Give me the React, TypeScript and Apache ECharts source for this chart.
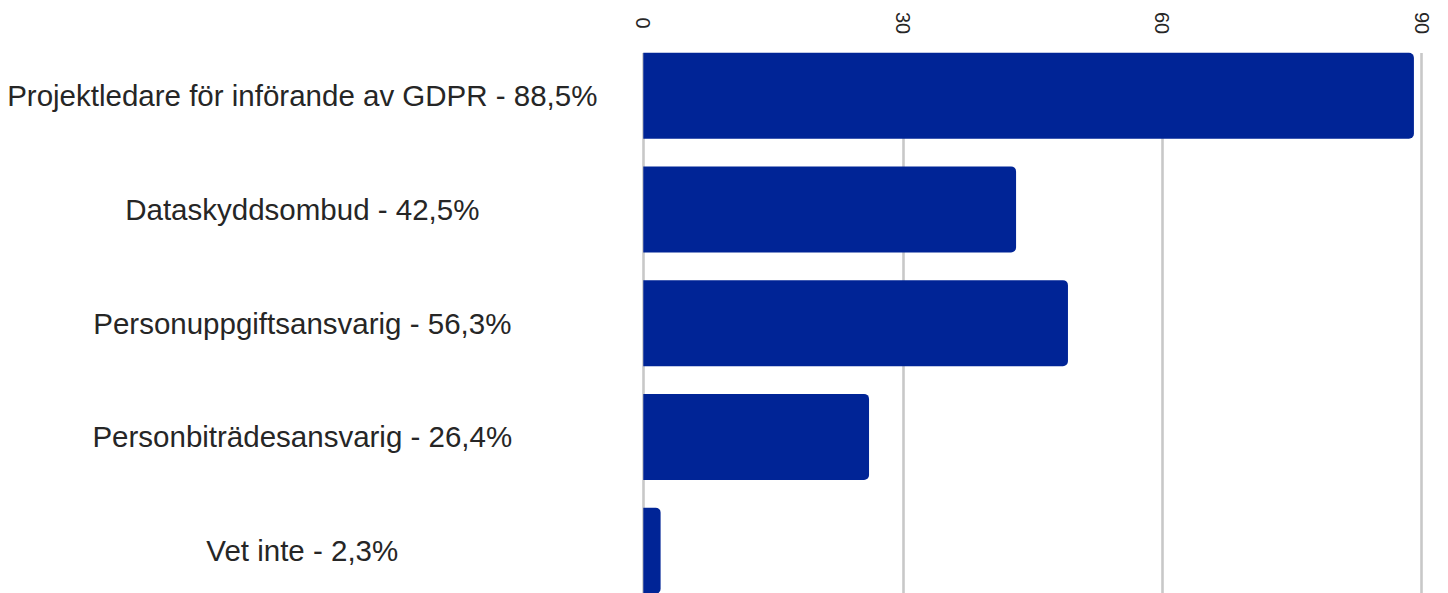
import React, { useEffect, useRef } from "react";
import * as echarts from "echarts";

const categories = [
  "Projektledare för införande av GDPR - 88,5%",
  "Dataskyddsombud - 42,5%",
  "Personuppgiftsansvarig - 56,3%",
  "Personbiträdesansvarig - 26,4%",
  "Vet inte - 2,3%",
];
const values = [89.1, 43.1, 49.1, 26.1, 2.0];
const axisMin = 0;
const axisMax = 90;
const axisInterval = 30;

const FONT = "'Liberation Sans', Arial, sans-serif";
const H = 640;

export default function App() {
  const ref = useRef<HTMLDivElement>(null);
  useEffect(() => {
    if (!ref.current) return;
    const chart = echarts.init(ref.current, null, { renderer: "svg" });
    chart.setOption({
      animation: false,
      backgroundColor: "#ffffff",
      grid: [
        { left: 643.3, right: 26.3, top: 53, bottom: H - 620, containLabel: false },
        { left: 643.3, right: 26.3, top: 38.8, bottom: H - 607.5, containLabel: false },
      ],
      xAxis: [
        {
          gridIndex: 0,
          type: "value",
          position: "top",
          min: axisMin,
          max: axisMax,
          interval: axisInterval,
          axisLine: { show: false },
          axisTick: { show: false },
          splitLine: { show: true, lineStyle: { color: "#c8c8c8", width: 2.6 } },
          axisLabel: {
            rotate: -90,
            align: "center",
            verticalAlign: "middle",
            margin: 30,
            fontSize: 20,
            color: "#262626",
            fontFamily: FONT,
          },
        },
        {
          gridIndex: 1,
          type: "value",
          min: axisMin,
          max: axisMax,
          show: false,
          splitLine: { show: false },
        },
      ],
      yAxis: [
        { gridIndex: 0, type: "value", show: false, min: 0, max: 1 },
        {
          gridIndex: 1,
          type: "category",
          data: categories,
          inverse: true,
          axisLine: { show: false },
          axisTick: { show: false },
          splitLine: { show: false },
          axisLabel: {
            align: "center",
            margin: 341,
            fontSize: 29.5,
            color: "#262626",
            fontFamily: FONT,
          },
        },
      ],
      series: [
        {
          type: "bar",
          xAxisIndex: 1,
          yAxisIndex: 1,
          data: values,
          barWidth: 86,
          itemStyle: { color: "#002496", borderRadius: [0, 5, 5, 0] },
          z: 3,
        },
      ],
    });
    return () => chart.dispose();
  }, []);
  return (
    <div
      ref={ref}
      style={{ position: "fixed", left: 0, top: 0, width: 1448, height: H }}
    />
  );
}
